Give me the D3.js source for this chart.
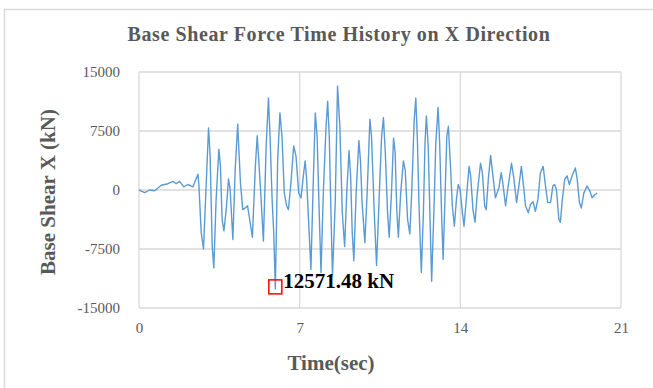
<!DOCTYPE html>
<meta charset="utf-8">
<style type="text/css">
body { margin: 0; background: #fff; }
.g-title { font-family: 'Liberation Serif', serif; font-size: 20px; font-weight: bold; fill: #595959; letter-spacing: 0.6px; }
.g-axis-title { font-family: 'Liberation Serif', serif; font-size: 21px; font-weight: bold; fill: #595959; }
.tick text { font-family: 'Liberation Serif', serif; font-size: 15px; fill: #595959; }
.grid line { stroke: #d9d9d9; stroke-width: 1.3; }
.series { fill: none; stroke: #5b9bd5; stroke-width: 1.4; stroke-linejoin: round; }
.peak-label { font-family: 'Liberation Serif', serif; font-size: 21px; font-weight: bold; fill: #000; }
</style>
<body>
<script src="https://cdn.jsdelivr.net/npm/d3@7"></script>
<script>
var times = [0, 0.25, 0.46, 0.68, 0.97, 1.26, 1.48, 1.62, 1.77, 1.95, 2.13, 2.35, 2.57, 2.61, 2.71, 2.81, 2.93,
  3.03, 3.1, 3.19, 3.26, 3.36, 3.48, 3.55, 3.62, 3.7, 3.8, 3.9, 3.97, 4.09, 4.19, 4.3, 4.42, 4.52, 4.62,
  4.73, 4.84, 4.94, 5.07, 5.15, 5.22, 5.32, 5.42, 5.54, 5.64, 5.71, 5.8, 5.87, 5.94, 6.04, 6.14, 6.23,
  6.33, 6.43, 6.51, 6.62, 6.74, 6.84, 6.96, 7.06, 7.16, 7.24, 7.3, 7.42, 7.49, 7.6, 7.68, 7.76, 7.86,
  7.93, 8.03, 8.15, 8.22, 8.29, 8.36, 8.43, 8.55, 8.65, 8.75, 8.86, 8.96, 9.05, 9.15, 9.22, 9.29, 9.36,
  9.46, 9.58, 9.65, 9.72, 9.84, 9.94, 10.06, 10.13, 10.25, 10.35, 10.46, 10.57, 10.65, 10.73, 10.83,
  10.9, 11.0, 11.09, 11.16, 11.23, 11.3, 11.4, 11.52, 11.6, 11.7, 11.8, 11.88, 11.99, 12.06, 12.13,
  12.2, 12.3, 12.39, 12.46, 12.52, 12.6, 12.68, 12.75, 12.86, 12.93, 13.03, 13.1, 13.19, 13.25, 13.33,
  13.41, 13.48, 13.58, 13.65, 13.74, 13.83, 13.91, 13.99, 14.09, 14.16, 14.26, 14.38, 14.45, 14.55,
  14.64, 14.74, 14.88, 14.96, 15.06, 15.13, 15.22, 15.32, 15.42, 15.53, 15.6, 15.68, 15.78, 15.85,
  15.97, 16.09, 16.23, 16.33, 16.45, 16.55, 16.66, 16.77, 16.84, 16.96, 17.06, 17.17, 17.27, 17.38,
  17.49, 17.61, 17.71, 17.81, 17.93, 18.03, 18.11, 18.19, 18.29, 18.36, 18.43, 18.55, 18.65, 18.75,
  18.87, 19.01, 19.09, 19.19, 19.27, 19.38, 19.52, 19.64, 19.74, 19.85, 19.96];
var shear = [0, -330, 0, -100, 600, 800, 1100, 800, 1100, 400, 700, 400, 2000, 600, -5400, -7500, 900,
  7900, 4300, -7200, -9900, -1200, 5200, 3000, -3700, -5200, -2500, 1400, 100, -6300, 2600, 8350, 900, -2500, -2300,
  -2000, -4100, -6000, 3000, 6900, 3700, -1200, -6500, 5600, 11700, 6800, -1200, -5400, -12571, 3700, 9800, 6800,
  -400, -2000, -2500, 900, 5600, 4300, -400, -1000, 1800, 3700, 1500, -5800, -10100, 1800, 9800, 6800, -3700,
  -10500, -400, 8100, 11300, 6800, -2500, -10900, -1600, 13200, 8100, -3000, -7200, -400, 5000, 1800, -5400, -9000,
  -400, 6300, 3700, -1600, -6700, -400, 9000, 6800, -2900, -9600, -1200, 6800, 9200, 4800, -2900,
  -6000, -400, 6600, 4800, -2500, -6000, -400, 3700, 2500, -3700, -5600, -400, 8900, 11700, 6300,
  -2000, -10500, -3000, 5900, 9400, 5600, -3700, -11600, -1600, 5900, 10500, 5900, -3700, -8800, -1200,
  6800, 8100, 2500, -2000, -4600, -1200, 700, 100, -2900, -4600, -1200, 3000, 1800, -2500,
  -4100, -400, 3400, 2200, -2000, -2500, 1400, 4400, 1800, -1000, -400, 300, 2200, 900,
  -2000, 600, 3400, 1500, -1600, 500, 3000, 100, -2000, -2900, -1800, -1500, -2700, -1200,
  2200, 3000, 500, -1600, -1600, 500, 700, 0, -3700, -4100, -1600, 1400, 1800, 700,
  1800, 2800, 1400, -1600, -2300, -400, 500, -100, -1000, -600, -400];
var xTicks = [0, 7, 14, 21];
var yTicks = [-15000, -7500, 0, 7500, 15000];
var peakLabel = "12571.48 kN";

var W = 653, H = 388;
var margin = {top: 72, right: 32, bottom: 80, left: 139};

var svg = d3.select("body").append("svg")
  .attr("width", W)
  .attr("height", H);

// chart area frame
svg.append("path")
  .attr("d", "M4.5," + H + "V9.5H" + W)
  .attr("fill", "none")
  .attr("stroke", "#d9d9d9")
  .attr("stroke-width", 1.5);

var x = d3.scaleLinear().domain([0, 21]).range([margin.left, W - margin.right]);
var y = d3.scaleLinear().domain([-15000, 15000]).range([H - margin.bottom, margin.top]);

// gridlines
svg.append("g").attr("class", "grid")
  .selectAll("line.h").data(yTicks).enter().append("line")
  .attr("x1", x(0)).attr("x2", x(21))
  .attr("y1", function(d) { return y(d); }).attr("y2", function(d) { return y(d); });
svg.select(".grid")
  .selectAll("line.v").data(xTicks).enter().append("line")
  .attr("y1", y(-15000)).attr("y2", y(15000))
  .attr("x1", function(d) { return x(d); }).attr("x2", function(d) { return x(d); });

// axes (labels only), plain hyphen for negatives like the excel original
var yAxis = d3.axisLeft(y).tickValues(yTicks).tickFormat(function(d) { return String(d); })
  .tickSize(0).tickPadding(19);
svg.append("g").attr("transform", "translate(" + x(0) + ",0)").call(yAxis)
  .call(function(g) { g.select(".domain").remove(); });

var xAxis = d3.axisBottom(x).tickValues(xTicks).tickSize(0).tickPadding(14);
svg.append("g").attr("transform", "translate(0," + y(-15000) + ")").call(xAxis)
  .call(function(g) { g.select(".domain").remove(); });

// series
var pts = times.map(function(t, i) { return [t, shear[i]]; });
var line = d3.line()
  .x(function(d) { return x(d[0]); })
  .y(function(d) { return y(d[1]); });
svg.append("path").datum(pts).attr("class", "series").attr("d", line);

// peak marker
var minIdx = d3.minIndex(shear);
svg.append("rect")
  .attr("x", x(times[minIdx]) - 6.5).attr("y", y(shear[minIdx]) - 9)
  .attr("width", 13).attr("height", 14)
  .attr("fill", "none").attr("stroke", "#ff0000").attr("stroke-width", 1.5);
svg.append("text").attr("class", "peak-label")
  .attr("x", x(times[minIdx]) + 8).attr("y", y(shear[minIdx]) - 1)
  .text(peakLabel);

// titles
svg.append("text").attr("class", "g-title")
  .attr("x", 339).attr("y", 41).attr("text-anchor", "middle")
  .text("Base Shear Force Time History on X Direction");
svg.append("text").attr("class", "g-axis-title")
  .attr("x", 331).attr("y", 370).attr("text-anchor", "middle")
  .text("Time(sec)");
svg.append("text").attr("class", "g-axis-title")
  .attr("transform", "translate(55,192) rotate(-90)").attr("text-anchor", "middle")
  .text("Base Shear X (kN)");
</script>
</body>
